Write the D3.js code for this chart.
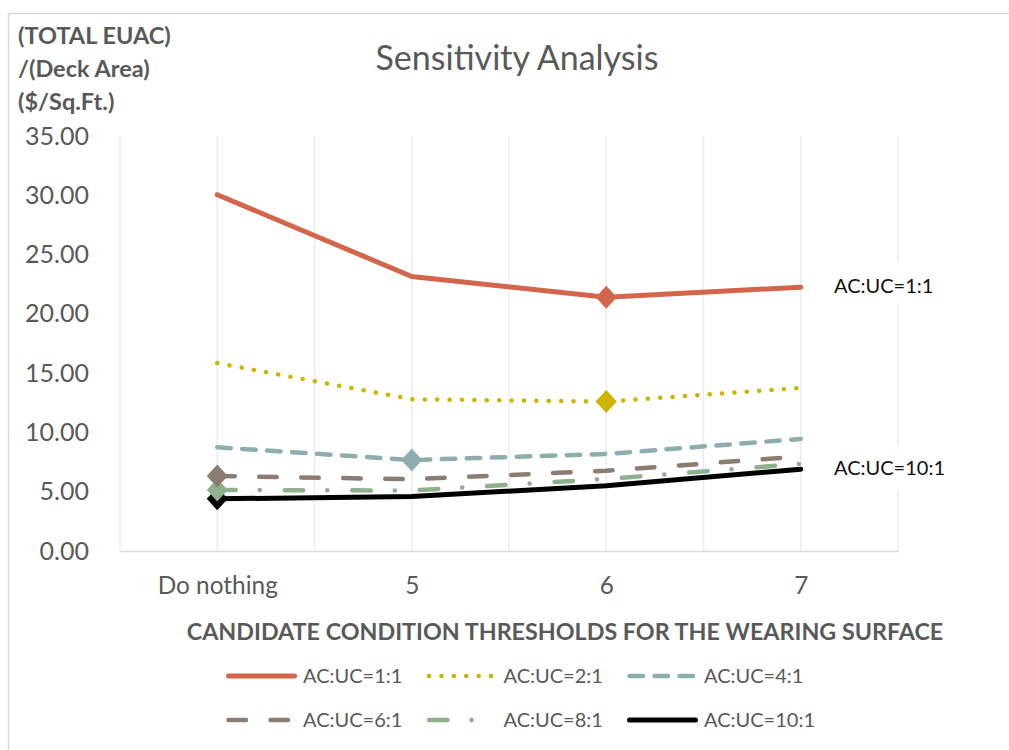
<!DOCTYPE html>
<meta charset="utf-8">
<style>
  body { margin: 0; background: #fff; }
  svg text { font-family: Lato, "Open Sans", sans-serif; }
</style>
<script src="https://d3js.org/d3.v7.min.js"></script>
<div id="chart"></div>
<script>
// categories on the x axis
var categories = ["Do nothing", "5", "6", "7"];
// series names
var seriesNames = ["AC:UC=1:1", "AC:UC=2:1", "AC:UC=4:1", "AC:UC=6:1", "AC:UC=8:1", "AC:UC=10:1"];
// values, one array per series
var ratio1 = [30.05, 23.15, 21.4, 22.25];
var ratio2 = [15.85, 12.8, 12.6, 13.75];
var ratio4 = [8.75, 7.67, 8.18, 9.45];
var ratio6 = [6.33, 6.05, 6.77, 7.97];
var ratio8 = [5.15, 5.1, 6.07, 7.35];
var ratio10 = [4.4, 4.6, 5.5, 6.9];
// index of the category with the diamond marker (minimum) for each series
var markerIdx = [2, 2, 1, 0, 0, 0];
var yTicks = [0, 5, 10, 15, 20, 25, 30, 35];

var colors = ["#D3654A", "#CDB400", "#8DADAE", "#8C7B70", "#8FB08C", "#000000"];
var dashes = ["none", "0.1 12.3", "13.5 11.5", "17.5 24.5", "18.5 24 0.1 24.9", "none"];

var seriesValues = [ratio1, ratio2, ratio4, ratio6, ratio8, ratio10];
var series = seriesNames.map(function (n, i) {
    return {name: n, values: seriesValues[i], color: colors[i], dash: dashes[i], mark: markerIdx[i]};
});

var W = 1009, H = 750;
var svg = d3.select("#chart").append("svg").attr("width", W).attr("height", H);

// outer chart border
svg.append("rect").attr("x", 8.5).attr("y", 13.5).attr("width", 1020).attr("height", 760)
    .attr("fill", "#fff").attr("stroke", "#d9d9d9").attr("stroke-width", 1.5);

var plotL = 120, plotR = 898, plotT = 136, plotB = 551;

var x = d3.scalePoint().domain(categories).range([plotL, plotR]).padding(0.5);
var y = d3.scaleLinear().domain([0, 35]).range([plotB, plotT]);

// vertical gridlines at every half step
var step = x.step();
var gridX = d3.range(0, 9).map(function (i) { return plotL + i * step / 2; });
svg.append("g").selectAll("line").data(gridX).enter().append("line")
    .attr("x1", function (d) { return d; }).attr("x2", function (d) { return d; })
    .attr("y1", plotT).attr("y2", plotB)
    .attr("stroke", "#ececec").attr("stroke-width", 1.5);

// y axis labels
var yAxis = svg.append("g").attr("transform", "translate(" + plotL + ",0)")
    .call(d3.axisLeft(y).tickValues(yTicks).tickFormat(d3.format(".2f")).tickSize(0).tickPadding(31));
yAxis.select(".domain").remove();
yAxis.selectAll("text").attr("font-size", 25).attr("fill", "#595959").attr("font-family", "Lato, sans-serif");

// x axis
var xAxis = svg.append("g").attr("transform", "translate(0," + plotB + ")")
    .call(d3.axisBottom(x).tickSize(0).tickPadding(26));
xAxis.select(".domain").attr("stroke", "#d9d9d9").attr("stroke-width", 1.5);
xAxis.selectAll("text").attr("font-size", 24.4).attr("fill", "#595959").attr("font-family", "Lato, sans-serif");

// lines
var line = d3.line()
    .x(function (d, i) { return x(categories[i]); })
    .y(function (d) { return y(d); });

var draw = series.slice().reverse();
svg.append("g").selectAll("path").data(draw).enter().append("path")
    .attr("d", function (d) { return line(d.values); })
    .attr("fill", "none")
    .attr("stroke", function (d) { return d.color; })
    .attr("stroke-width", function (d) { return d.dash === "none" ? 5 : 4.5; })
    .attr("stroke-dasharray", function (d) { return d.dash; })
    .attr("stroke-linecap", "round")
    .attr("stroke-linejoin", "round");

// diamond markers
function diamond(cx, cy) {
    var w = 10.5, h = 11.5;
    return "M" + cx + "," + (cy - h) + "L" + (cx + w) + "," + cy + "L" + cx + "," + (cy + h) + "L" + (cx - w) + "," + cy + "Z";
}
svg.append("g").selectAll("path").data(draw).enter().append("path")
    .attr("d", function (d) { return diamond(x(categories[d.mark]), y(d.values[d.mark])); })
    .attr("fill", function (d) { return d.color; });

// annotations (white box hides the last gridline behind them)
var notes = [{text: "AC:UC=1:1", s: 0, y0: 262, y1: 305}, {text: "AC:UC=10:1", s: 5, y0: 446, y1: 491}];
notes.forEach(function (n) {
    var ly = y(series[n.s].values[3]) - 1;
    svg.append("rect").attr("x", 826).attr("y", n.y0).attr("width", 130).attr("height", n.y1 - n.y0).attr("fill", "#fff");
    svg.append("text").attr("x", 834).attr("y", ly).attr("dy", "0.35em")
        .attr("font-size", 20).attr("fill", "#111").text(n.text);
});

// title
svg.append("text").attr("x", 517).attr("y", 58).attr("dy", "0.35em").attr("text-anchor", "middle")
    .attr("font-size", 34).attr("fill", "#595959").text("Sensitivity Analysis");

// y axis title
var yTitle = ["(TOTAL EUAC)", "/(Deck Area)", "($/Sq.Ft.)"];
svg.append("g").selectAll("text").data(yTitle).enter().append("text")
    .attr("x", 18).attr("y", function (d, i) { return 36 + i * 33; }).attr("dy", "0.35em")
    .attr("font-size", 23.5).attr("font-weight", "bold").attr("fill", "#595959")
    .text(function (d) { return d; });

// x axis title
svg.append("text").attr("x", 565).attr("y", 632).attr("dy", "0.35em").attr("text-anchor", "middle")
    .attr("font-size", 23.3).attr("font-weight", "bold").attr("fill", "#595959")
    .text("CANDIDATE CONDITION THRESHOLDS FOR THE WEARING SURFACE");

// legend
var leg = svg.append("g").selectAll("g").data(series).enter().append("g")
    .attr("transform", function (d, i) {
        return "translate(" + (226 + (i % 3) * 200.5) + "," + (676 + Math.floor(i / 3) * 44) + ")";
    });
leg.append("line").attr("x1", 2.5).attr("x2", 68.5).attr("y1", 0).attr("y2", 0)
    .attr("stroke", function (d) { return d.color; })
    .attr("stroke-width", function (d) { return d.dash === "none" ? 5 : 4.5; })
    .attr("stroke-dasharray", function (d) { return d.dash; })
    .attr("stroke-linecap", "round");
leg.append("text").attr("x", 77).attr("y", 0).attr("dy", "0.35em")
    .attr("font-size", 20).attr("fill", "#595959").text(function (d) { return d.name; });
</script>
